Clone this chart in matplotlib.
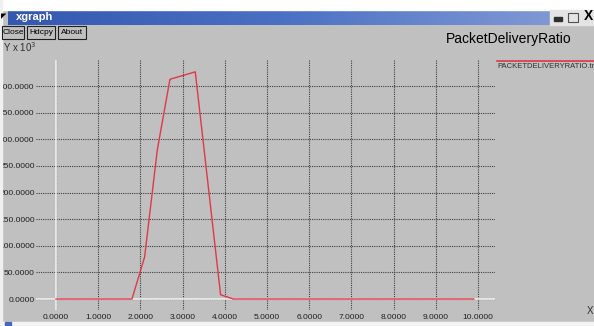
import matplotlib
matplotlib.use('Agg')
import numpy as np
import matplotlib.pyplot as plt
from matplotlib.patches import Rectangle
from matplotlib.colors import LinearSegmentedColormap

plt.rcParams['font.family'] = ['Liberation Sans', 'DejaVu Sans']

# data (Y values are x 10^3)
time_s = [0.0, 1.8, 2.1, 2.4, 2.7, 3.3, 3.9, 4.2, 9.9]
pdr = [0.0, 0.0, 79.0, 280.0, 413.0, 427.0, 8.0, 0.0, 0.0]
x_ticks = [0, 1, 2, 3, 4, 5, 6, 7, 8, 9, 10]
y_ticks = [0, 50, 100, 150, 200, 250, 300, 350, 400]
series_name = 'PACKETDELIVERYRATIO.tr'
graph_title = 'PacketDeliveryRatio'

W, H = 594, 326
BG = '#c0c0c0'
fig = plt.figure(figsize=(W / 100, H / 100), dpi=100, facecolor=BG)


def fx(px):
    return px / W


def fy(py):
    return 1 - py / H


def box(x0, y0, w, h, **kw):
    r = Rectangle((fx(x0), fy(y0 + h)), w / W, h / H, transform=fig.transFigure, **kw)
    fig.patches.append(r)
    return r


# window chrome
box(0, 0, W, 10, color='white', zorder=1)
box(550, 10, 44, 15, color='#e4e4e4', zorder=1)
bar = fig.add_axes([fx(8), fy(25), 542 / W, 15 / H])
bar.imshow(np.linspace(0, 1, 200).reshape(1, -1), aspect='auto',
           cmap=LinearSegmentedColormap.from_list('tb', ['#3458b0', '#4a70c4', '#7f98d4']))
bar.set_axis_off()
fig.text(fx(16), fy(17.5), 'xgraph', color='white', fontsize=8, fontweight='bold', va='center')
fig.text(fx(1), fy(17), '\u25e4', fontsize=5, va='center')
box(554, 17, 8, 4, color='#303030', zorder=2)
box(568, 13, 10, 9, fill=False, ec='#505050', lw=0.8, zorder=2)
fig.text(fx(588), fy(16), 'X', fontsize=10, fontweight='bold', ha='center', va='center')

for bx, bw, lab in [(2, 22, 'Close'), (27, 28, 'Hdcpy'), (58, 28, 'About')]:
    box(bx, 26, bw, 13, fill=False, ec='#202020', lw=0.8, zorder=2)
    fig.text(fx(bx + bw / 2), fy(32.5), lab, fontsize=6, ha='center', va='center')

fig.text(fx(3), fy(47), r'Y x 10$^3$', fontsize=7, va='center', color='#303030')
fig.text(fx(446), fy(39), graph_title, fontsize=10, va='center')

# plot area, axes placed so data matches pixel positions
ax = fig.add_axes([fx(36), fy(310), (495 - 36) / W, (310 - 60) / H])
ax.set_facecolor(BG)
ax.set_xlim(-20 / 42.2, 10 + 17 / 42.2)
ax.set_ylim(-11 * 50 / 26.6, 239 * 50 / 26.6)
for s in ax.spines.values():
    s.set_visible(False)

ax.set_xticks(x_ticks)
ax.set_xticklabels(['%.4f' % v for v in x_ticks])
ax.set_yticks(y_ticks)
ax.set_yticklabels(['%.4f' % v for v in y_ticks])
ax.tick_params(length=0, labelsize=6, colors='#202020')
ax.tick_params(axis='x', pad=3)
ax.tick_params(axis='y', pad=1)
ax.grid(True, linestyle=(0, (1, 1)), color='#404040', linewidth=0.8)
ax.axhline(0, color='#f0f0f0', lw=1.2)
ax.axvline(0, color='#f0f0f0', lw=1.2)

ax.plot(time_s, pdr, color='#e03848', lw=1.0)

# legend in the right margin
fig.lines.append(plt.Line2D([fx(497), 1], [fy(61), fy(61)], transform=fig.transFigure,
                            color='#e03848', lw=1.2))
fig.text(fx(497), fy(66), series_name, fontsize=5.5, va='center', color='#303030')
fig.text(fx(587), fy(311), 'X', fontsize=7, va='center', color='#303030')

# screen edges
box(0, 0, 2, H, color='#f0f0f0', zorder=1)
box(0, 322, W, 4, color='#f4f4f4', zorder=1)
box(5, 322, 6, 4, color='#4468b8', zorder=2)

fig.savefig('out.png', dpi=100, facecolor=BG)
